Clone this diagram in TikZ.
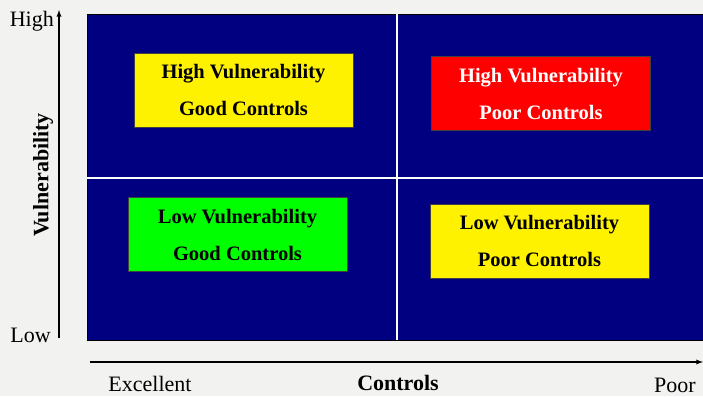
\documentclass[tikz,border=0pt]{standalone}
\usepackage{fontspec}
\setmainfont{Liberation Serif}

\definecolor{navyfield}{RGB}{0,0,128}
\definecolor{pagegray}{RGB}{242,242,241}
\definecolor{goodgreen}{RGB}{0,255,0}

\begin{document}
\begin{tikzpicture}[x=1pt, y=-1pt]
    \tikzset{
        quad/.style={draw=black!75, thin, minimum width=219pt, minimum height=74pt,
            align=center, font=\fontsize{20.5}{37}\selectfont\bfseries},
        axislabel/.style={inner sep=0pt, font=\fontsize{22}{24}\selectfont},
    }

    % Page background
    \fill[pagegray] (0,0) rectangle (703,396);
    \useasboundingbox (0,0) rectangle (703,396);

    % Quadrant field
    \draw[black, fill=navyfield] (87,14) rectangle (705,340);
    \draw[white, line width=1.2pt] (397,14) -- (397,340);
    \draw[white, line width=1.2pt] (87,178) -- (705,178);

    % Quadrant boxes
    \node[quad, fill=yellow] (hvgc) at (243.5,90) {High Vulnerability\\Good Controls};
    \node[quad, fill=red, text=white] (hvpc) at (541,93.5) {High Vulnerability\\Poor Controls};
    \node[quad, fill=goodgreen] (lvgc) at (237.5,234.5) {Low Vulnerability\\Good Controls};
    \node[quad, fill=yellow] (lvpc) at (539.5,241) {Low Vulnerability\\Poor Controls};

    % Vulnerability axis
    \coordinate (ybot) at (59,338);
    \coordinate (ytop) at (59,10);
    \draw[->, >=latex, line width=1.3pt] (ybot) -- (ytop);
    \node[axislabel, anchor=base east] (high) at (54,27) {High};
    \node[axislabel, anchor=base east] (low) at (51,342) {Low};
    \node[axislabel, font=\fontsize{22}{24}\selectfont\bfseries, rotate=90] (vuln) at (43,175) {Vulnerability};

    % Controls axis
    \coordinate (xleft) at (90,362);
    \coordinate (xright) at (703,362);
    \draw[->, >=latex, line width=1.3pt] (xleft) -- (xright);
    \node[axislabel, anchor=base] (excellent) at (150,391) {Excellent};
    \node[axislabel, font=\fontsize{22}{24}\selectfont\bfseries, anchor=base] (controls) at (398,390) {Controls};
    \node[axislabel, anchor=base] (poor) at (675,392) {Poor};
\end{tikzpicture}
\end{document}
